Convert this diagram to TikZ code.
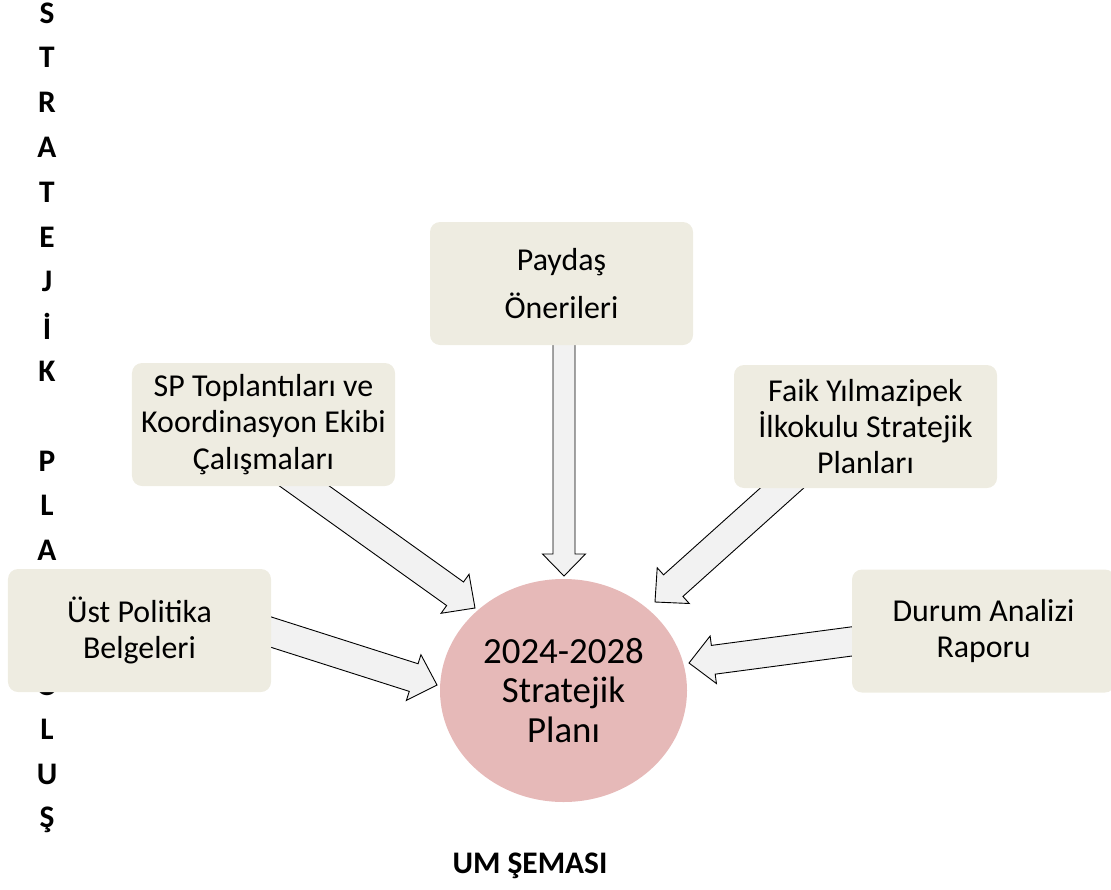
\documentclass[tikz,border=0pt]{standalone}
\usepackage{fontspec}
\setmainfont{Carlito}
\usetikzlibrary{calc,backgrounds,shapes.geometric}
\definecolor{boxfill}{HTML}{EEECE1}
\definecolor{planfill}{HTML}{E6B9B8}
\definecolor{arrowfill}{HTML}{F2F2F2}
\tikzset{
  srcbox/.style={fill=boxfill, rounded corners=10bp, minimum width=263bp,
    minimum height=123bp, align=center, inner sep=0pt,
    font=\fontsize{32}{36.5}\selectfont},
  blockarrow/.style={fill=arrowfill, draw=black, line width=0.9bp, line join=miter},
  letter/.style={font=\fontsize{31.5}{31.5}\selectfont\bfseries, inner sep=0pt}
}
% tail, tip, shaft half width, head half width, head length
\newcommand{\bigarrow}[5]{%
  \coordinate (hb) at ($(#2)!#5!(#1)$);
  \draw[blockarrow] ($(#1)!#3!90:(#2)$) -- ($(hb)!#3!90:(#2)$)
    -- ($(hb)!#4!90:(#2)$) -- (#2) -- ($(hb)!#4!-90:(#2)$)
    -- ($(hb)!#3!-90:(#2)$) -- ($(#1)!#3!-90:(#2)$) -- cycle;
}
\begin{document}
\begin{tikzpicture}[x=1bp,y=-1bp]
  \useasboundingbox (0,0) rectangle (1111,890);
  % vertical title
  \foreach \ch [count=\i from 0] in {S,T,R,A,T,E,J,İ,K,{},P,L,A,N,{},O,L,U,Ş}
    \node[letter] (l\i) at (47,13+44.8*\i) {\ch};
  \node[letter] (rest) at (530,866) {UM ŞEMASI};
  % sources
  \node[srcbox, font=\fontsize{32}{49}\selectfont] (payd) at (561.5,283.5) {Paydaş\\Önerileri};
  \node[srcbox] (sptop) at (263.5,424.5) {SP Toplantıları ve\\Koordinasyon Ekibi\\Çalışmaları};
  \node[srcbox] (faik) at (865.5,426.5) {Faik Yılmazipek\\İlkokulu Stratejik\\Planları};
  \node[srcbox] (ust) at (139.5,630.5) {Üst Politika\\Belgeleri};
  \node[srcbox] (durum) at (983.5,631) {Durum Analizi\\Raporu};
  % plan
  \node[ellipse, fill=planfill, minimum width=247bp, minimum height=223bp,
    inner sep=0pt, align=center, font=\fontsize{37}{39.5}\selectfont] (plan)
    at (563.5,690.5) {2024-2028\\Stratejik\\Planı};
  % arrow ends
  \coordinate (t1) at (282,470);   \coordinate (p1) at (475,608);
  \coordinate (t2) at (564,330);   \coordinate (p2) at (564,576);
  \coordinate (t3) at (801,471);   \coordinate (p3) at (655,602);
  \coordinate (t4) at (255,627);   \coordinate (p4) at (437,685);
  \coordinate (t5) at (870,639);   \coordinate (p5) at (689,663);
  \begin{pgfonlayer}{background}
    \bigarrow{t1}{p1}{14.5bp}{24bp}{24.5bp}
    \bigarrow{t2}{p2}{11bp}{21.5bp}{22bp}
    \bigarrow{t3}{p3}{14.5bp}{24bp}{24.5bp}
    \bigarrow{t4}{p4}{14.5bp}{24bp}{24.5bp}
    \bigarrow{t5}{p5}{14.5bp}{24bp}{24.5bp}
  \end{pgfonlayer}
\end{tikzpicture}
\end{document}
